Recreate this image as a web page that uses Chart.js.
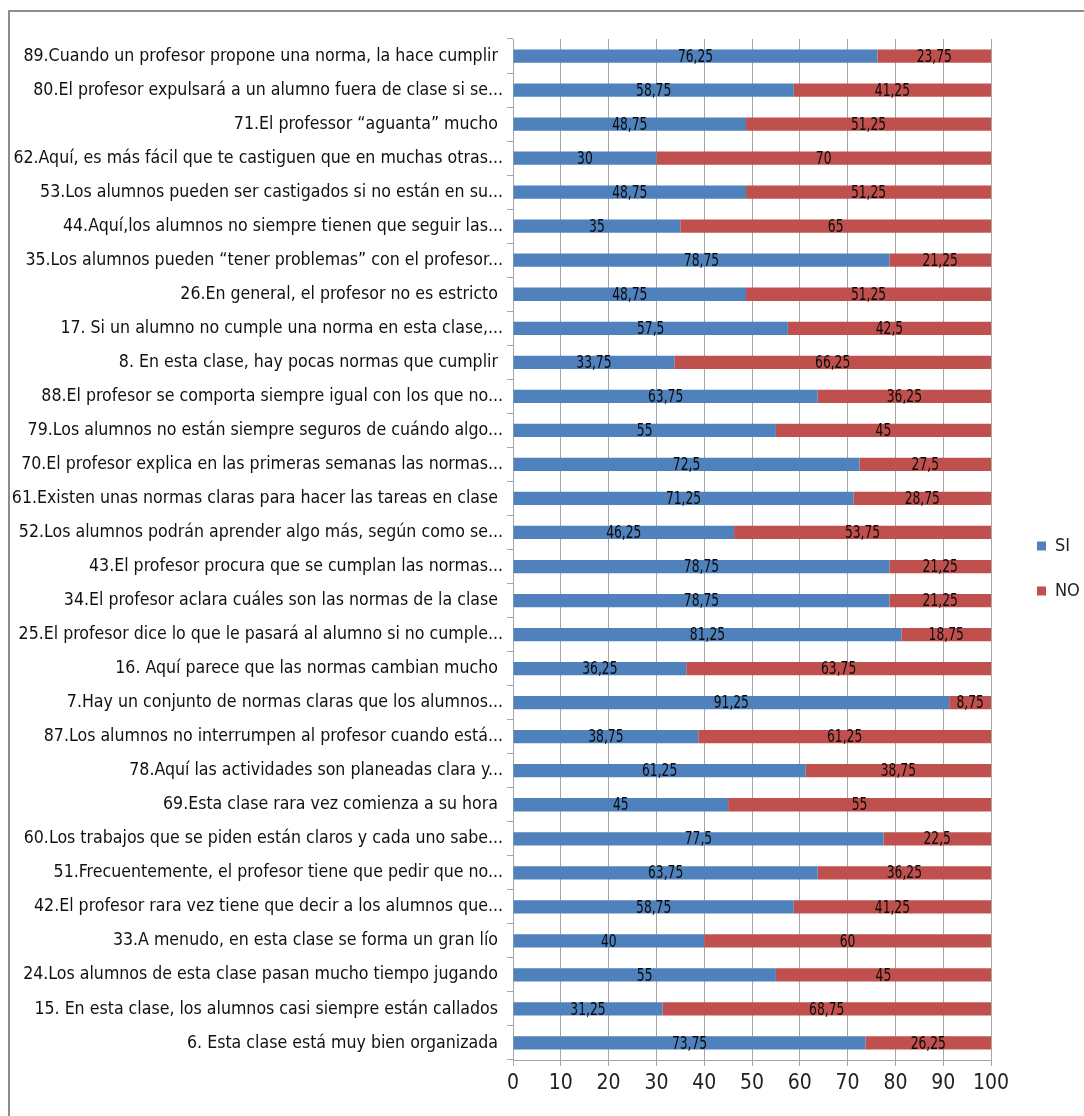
<!DOCTYPE html>
<html><head><meta charset="utf-8">
<script src="https://cdn.jsdelivr.net/npm/chart.js@4/dist/chart.umd.min.js"></script>
<style>
html,body{margin:0;padding:0;background:#fff;}
#wrap{position:absolute;left:0;top:0;width:1084px;height:1116px;}
#frame{position:absolute;left:8px;top:10px;width:1100px;height:1120px;border-top:2px solid #8c8c8c;border-left:2px solid #8c8c8c;}
canvas{position:absolute;left:0;top:0;}
</style></head>
<body>
<div id="wrap"><div id="frame"></div><canvas id="c" width="1084" height="1116"></canvas></div>
<script>
const categories = [
"89.Cuando un profesor propone una norma, la hace cumplir ",
"80.El profesor expulsará a un alumno fuera de clase si se...",
"71.El professor “aguanta” mucho ",
"62.Aquí, es más fácil que te castiguen que en muchas otras...",
"53.Los alumnos pueden ser castigados si no están en su...",
"44.Aquí,los alumnos no siempre tienen que seguir las...",
"35.Los alumnos pueden “tener problemas” con el profesor...",
"26.En general, el profesor no es estricto ",
"17. Si un alumno no cumple una norma en esta clase,...",
"8. En esta clase, hay pocas normas que cumplir ",
"88.El profesor se comporta siempre igual con los que no...",
"79.Los alumnos no están siempre seguros de cuándo algo...",
"70.El profesor explica en las primeras semanas las normas...",
"61.Existen unas normas claras para hacer las tareas en clase ",
"52.Los alumnos podrán aprender algo más, según como se...",
"43.El profesor procura que se cumplan las normas...",
"34.El profesor aclara cuáles son las normas de la clase ",
"25.El profesor dice lo que le pasará al alumno si no cumple...",
"16. Aquí parece que las normas cambian mucho ",
"7.Hay un conjunto de normas claras que los alumnos...",
"87.Los alumnos no interrumpen al profesor cuando está...",
"78.Aquí las actividades son planeadas clara y...",
"69.Esta clase rara vez comienza a su hora ",
"60.Los trabajos que se piden están claros y cada uno sabe...",
"51.Frecuentemente, el profesor tiene que pedir que no...",
"42.El profesor rara vez tiene que decir a los alumnos que...",
"33.A menudo, en esta clase se forma un gran lío ",
"24.Los alumnos de esta clase pasan mucho tiempo jugando ",
"15. En esta clase, los alumnos casi siempre están callados ",
"6. Esta clase está muy bien organizada "
];
const siValues = [76.25,58.75,48.75,30,48.75,35,78.75,48.75,57.5,33.75,63.75,55,72.5,71.25,46.25,78.75,78.75,81.25,36.25,91.25,38.75,61.25,45,77.5,63.75,58.75,40,55,31.25,73.75];
const noValues = [23.75,41.25,51.25,70,51.25,65,21.25,51.25,42.5,66.25,36.25,45,27.5,28.75,53.75,21.25,21.25,18.75,63.75,8.75,61.25,38.75,55,22.5,36.25,41.25,60,45,68.75,26.25];
const xTicks = [0,10,20,30,40,50,60,70,80,90,100];
const seriesNames = ["SI","NO"];

const FONT = "'DejaVu Sans Condensed','Liberation Sans',sans-serif";
const fmt = v => String(v).replace('.', ',');

const labelPlugin = {
  id: 'barLabels',
  afterDatasetsDraw(chart){
    const ctx = chart.ctx;
    chart.data.datasets.forEach((ds, di) => {
      const meta = chart.getDatasetMeta(di);
      meta.data.forEach((bar, i) => {
        const x = (bar.x + bar.base) / 2;
        ctx.save();
        ctx.font = "18px " + FONT;
        ctx.fillStyle = '#0a0a0a';
        ctx.textAlign = 'center';
        ctx.textBaseline = 'middle';
        ctx.translate(x, bar.y + 1);
        ctx.scale(0.76, 1);
        ctx.fillText(fmt(ds.data[i]), 0, 0);
        ctx.restore();
      });
    });
  }
};

const legendFix = {
  id: 'legendFix',
  afterInit(chart){
    const lg = chart.legend;
    const origFit = lg.fit;
    lg.fit = function(){ origFit.call(this); this.width = 93; };
    const origDraw = lg.draw;
    lg.draw = function(){
      this.left += 19; this.top -= 9; this.bottom -= 9;
      origDraw.call(this);
      this.left -= 19; this.top += 9; this.bottom += 9;
    };
  }
};

new Chart(document.getElementById('c'), {
  type: 'bar',
  data: {
    labels: categories,
    datasets: [
      {label: seriesNames[0], data: siValues, backgroundColor: '#4F81BD', barPercentage: 0.39, categoryPercentage: 1},
      {label: seriesNames[1], data: noValues, backgroundColor: '#C0504D', barPercentage: 0.39, categoryPercentage: 1}
    ]
  },
  options: {
    indexAxis: 'y',
    responsive: false,
    animation: false,
    layout: {padding: {left: 0, right: 0, top: 39, bottom: 0}},
    plugins: {
      legend: {
        position: 'right',
        align: 'center',
        labels: {boxWidth: 9, boxHeight: 9, padding: 27, color: '#222', font: {family: FONT, size: 18}}
      },
      tooltip: {enabled: false}
    },
    scales: {
      x: {
        stacked: true, min: 0, max: 100,
        afterBuildTicks(s){ s.ticks = xTicks.map(v => ({value: v})); },
        ticks: {color: '#222', font: {family: FONT, size: 21}, padding: 5},
        grid: {color: '#a6a6a6', lineWidth: 1, tickLength: 6, drawTicks: true},
        border: {color: '#a6a6a6'},
        afterFit(s){ s.height = 56; }
      },
      y: {
        stacked: true,
        ticks: {color: '#111', font: {family: FONT, size: 17.6}, padding: 4, autoSkip: false},
        grid: {offset: true, drawOnChartArea: false, color: '#a6a6a6', tickLength: 6},
        border: {color: '#a6a6a6'},
        afterFit(s){ s.width = 513; }
      }
    }
  },
  plugins: [labelPlugin, legendFix]
});
</script>
</body></html>
